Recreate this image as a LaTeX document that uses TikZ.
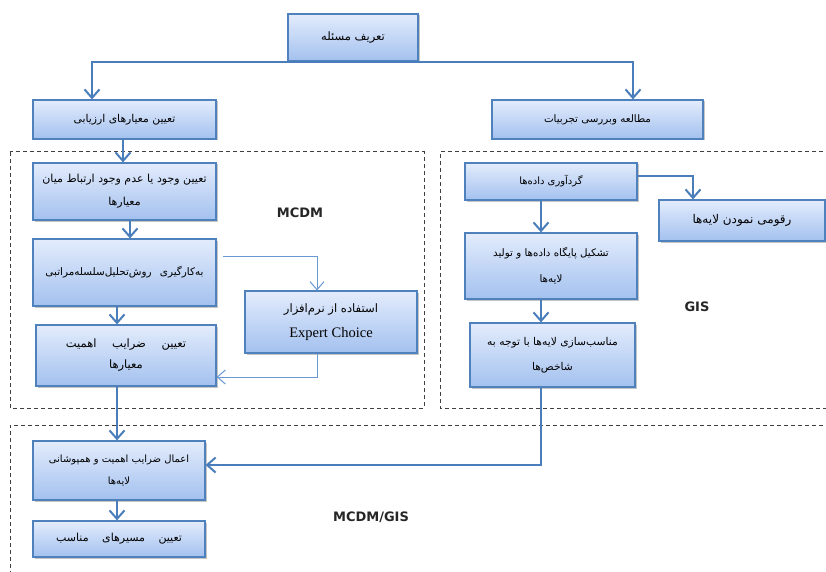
\documentclass[tikz,border=0pt]{standalone}
\usepackage{fontspec}
\usetikzlibrary{arrows.meta,shadows,calc}
\TeXXeTstate=1
\newfontfamily\arabicfont[Script=Arabic]{DejaVu Sans}
\newfontfamily\labelfont{DejaVu Sans}
\newfontfamily\serifen{Liberation Serif}
\newcommand{\fa}[1]{\beginR#1\endR}
\definecolor{boxborder}{HTML}{4F81BD}
\definecolor{boxtop}{HTML}{E3ECFC}
\definecolor{boxbot}{HTML}{A3C1EF}
\definecolor{arrowblue}{HTML}{4A7EBB}
\definecolor{thinblue}{HTML}{6A98D2}
\begin{document}
\begin{tikzpicture}[x=1pt,y=-1pt,
  box/.style={draw=boxborder, line width=1.2pt, top color=boxtop, bottom color=boxbot,
    drop shadow={shadow xshift=1.5pt, shadow yshift=-1.5pt, fill=black!45, opacity=0.5},
    align=center, inner sep=2pt, font=\arabicfont\fontsize{11}{23}\selectfont},
  fs/.style={font=\arabicfont\fontsize{#1}{23}\selectfont},
  flow/.style={draw=arrowblue, line width=2pt, -{Straight Barb[length=8.5pt,width=15pt]}},
  thinflow/.style={draw=thinblue, line width=1pt, -{Straight Barb[length=8pt,width=14pt]}},
  frame/.style={draw=black!75, line width=1pt, dash pattern=on 4pt off 3pt},
  lbl/.style={font=\labelfont\bfseries\fontsize{13}{15}\selectfont, text=black!85}]
\useasboundingbox (0,0) rectangle (826,572);
\fill[white] (0,0) rectangle (826,572);

% frames
\draw[frame] (10,152) rectangle (424,408);
\draw[frame] (830,152) -- (440,152) -- (440,408) -- (830,408);
\draw[frame] (830,425) -- (10,425) -- (10,580);

% nodes
\node[box, fs=11.5, minimum width=130pt, minimum height=47pt] (top) at (353,37.5) {\fa{تعریف مسئله}};
\node[box, fs=10.8, minimum width=183pt, minimum height=39pt] (eval) at (124.5,119.5) {\fa{تعیین معیارهای ارزیابی}};
\node[box, fs=10.3, minimum width=211pt, minimum height=39pt] (exp) at (597.5,119.5) {\fa{مطالعه وبررسی تجربیات}};

\node[box, fs=11, minimum width=183pt, minimum height=57pt] (A) at (124.5,191.5) {\fa{تعیین وجود یا عدم وجود ارتباط میان}\\\fa{معیارها}};
\node[box, fs=10.4, minimum width=183pt, minimum height=67pt] (B) at (124.5,272.5) {\fa{به‌کارگیری\hspace{5pt} روش‌تحلیل‌سلسله‌مراتبی}};
\node[box, minimum width=180pt, minimum height=61pt, font=\arabicfont\fontsize{11.5}{21}\selectfont] (C) at (126,355.5) {\fa{تعیین\hspace{12pt} ضرایب\hspace{12pt} اهمیت}\\\fa{معیارها}};
\node[box, font=\arabicfont\fontsize{11.6}{25}\selectfont, minimum width=172pt, minimum height=62pt] (D) at (331,322) {\fa{استفاده از نرم‌افزار}\\{\serifen\fontsize{14.5}{25}\selectfont Expert Choice}};

\node[box, fs=10, minimum width=172pt, minimum height=37pt] (G1) at (551,181.5) {\fa{گردآوری داده‌ها}};
\node[box, fs=12, minimum width=166pt, minimum height=41pt] (G2) at (742,220.5) {\fa{رقومی نمودن لایه‌ها}};
\node[box, font=\arabicfont\fontsize{10.3}{26}\selectfont, minimum width=172pt, minimum height=66pt] (G3) at (551,266) {\fa{تشکیل پایگاه داده‌ها و تولید}\\\fa{لایه‌ها}};
\node[box, font=\arabicfont\fontsize{10.7}{25}\selectfont, minimum width=165pt, minimum height=64pt] (G4) at (552.5,355) {\fa{مناسب‌سازی لایه‌ها با توجه به}\\\fa{شاخص‌ها}};

\node[box, font=\arabicfont\fontsize{10}{22}\selectfont, minimum width=172pt, minimum height=59pt] (E) at (119,470.5) {\fa{اعمال ضرایب اهمیت و همپوشانی}\\\fa{لایه‌ها}};
\node[box, fs=11, minimum width=172pt, minimum height=36pt] (F) at (119,539) {\fa{تعیین\hspace{10pt} مسیرهای\hspace{10pt} مناسب}};

% labels
\node[lbl] (lmcdm) at (300,213) {MCDM};
\node[lbl] (lgis) at (697,307) {GIS};
\node[lbl] (lboth) at (371,517) {MCDM/GIS};

% connectors
\coordinate (xl) at (92,0);
\coordinate (xr) at (633,0);
\draw[flow] (top.south) -| (eval.north -| xl);
\draw[flow] (top.south) -| (exp.north -| xr);
\draw[flow] ([xshift=-1.5pt]eval.south) -- ([xshift=-1.5pt]A.north);
\draw[flow] ([xshift=5.5pt]A.south) -- ([xshift=5.5pt]B.north);
\draw[flow] ([xshift=-7.5pt]B.south) -- ([xshift=-9pt]C.north);
\draw[thinflow] ([shift={(6pt,16.5pt)}]B.east) -| ([xshift=-14pt]D.north);
\draw[thinflow] ([xshift=-14pt]D.south) |- ([yshift=-21.5pt]C.east);
\draw[flow] ([xshift=-9pt]C.south) -- ([xshift=-2pt]E.north);
\draw[flow] ([xshift=-2pt]E.south) -- ([xshift=-2pt]F.north);
\draw[flow] ([xshift=-11.5pt]G4.south) |- ([yshift=5.5pt]E.east);
\draw[flow] ([xshift=-10pt]G1.south) -- ([xshift=-10pt]G3.north);
\draw[flow] ([xshift=-10pt]G3.south) -- ([xshift=-11.5pt]G4.north);
\draw[flow] ([yshift=5.5pt]G1.east) -| ([xshift=-49pt]G2.north);
\end{tikzpicture}
\end{document}
